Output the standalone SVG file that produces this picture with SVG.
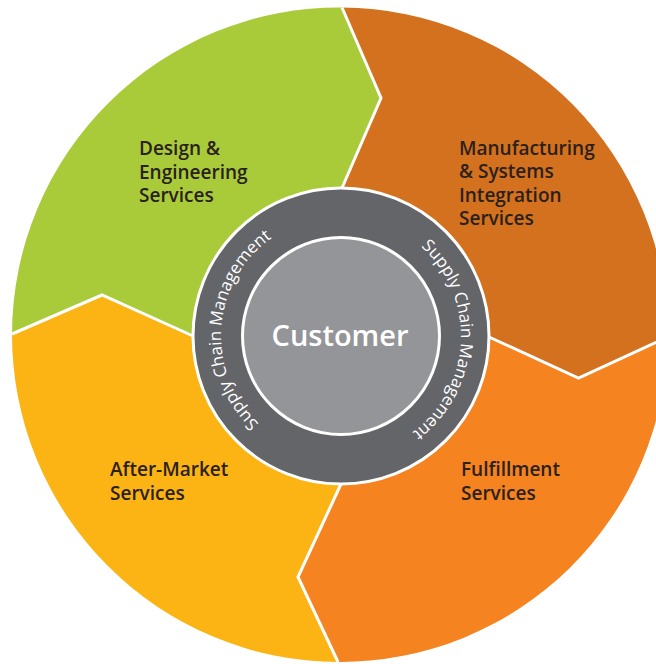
<svg xmlns="http://www.w3.org/2000/svg" width="656" height="664" viewBox="0 0 656 664">
  <style>
    .label { font-family: "Open Sans", "Liberation Sans", sans-serif; font-size: 19px; font-weight: 600; fill: #2A201C; }
    .ring-text { font-family: "Open Sans", "Liberation Sans", sans-serif; font-size: 17px; font-weight: 500; fill: #FFFFFF; }
    .hub-text { font-family: "Open Sans", "Liberation Sans", sans-serif; font-size: 29px; font-weight: 600; fill: #FFFFFF; }
    .divider { fill: none; stroke: #FFFFFF; stroke-width: 3; stroke-linejoin: miter; }
  </style>
  <defs>
    <!-- baseline arcs for the ring captions, both running clockwise -->
    <path id="arcLeft" d="M 322.23 454.52 A 120 120 0 0 1 338.91 216.02"/>
    <path id="arcRight" d="M 357.08 217.08 A 120 120 0 0 1 345.82 455.90"/>
  </defs>
  <rect width="656" height="664" fill="#FFFFFF"/>

  <!-- four service segments of the outer wheel -->
  <g id="design">
    <path d="M 12 334 A 327.5 327.5 0 0 1 342 7.5 L 381 98 L 342 188 L 341 336 L 193 336 L 102 295 Z" fill="#A9CB3A"/>
    <text class="label" x="139" y="155">Design &amp;</text>
    <text class="label" x="139" y="178.5">Engineering</text>
    <text class="label" x="139" y="202">Services</text>
  </g>
  <g id="manufacturing">
    <path d="M 342 7.5 A 327.5 327.5 0 0 1 667.5 337 L 578.5 378 L 489 337 L 341 336 L 342 188 L 381 98 Z" fill="#D3711E"/>
    <text class="label" x="459" y="154.5">Manufacturing</text>
    <text class="label" x="459" y="178">&amp; Systems</text>
    <text class="label" x="459" y="201.5">Integration</text>
    <text class="label" x="459" y="225">Services</text>
  </g>
  <g id="fulfillment">
    <path d="M 667.5 337 A 327.5 327.5 0 0 1 338 662 L 298 577 L 341 484 L 341 336 L 489 337 L 578.5 378 Z" fill="#F58320"/>
    <text class="label" x="461" y="476">Fulfillment</text>
    <text class="label" x="461" y="499.5">Services</text>
  </g>
  <g id="after-market">
    <path d="M 338 662 A 327.5 327.5 0 0 1 12 334 L 102 295 L 193 336 L 341 336 L 341 484 L 298 577 Z" fill="#FCB415"/>
    <text class="label" x="110" y="476">After-Market</text>
    <text class="label" x="110" y="499.5">Services</text>
  </g>

  <!-- chevron dividers between segments -->
  <g id="connectors">
    <polyline class="divider" points="342,7.5 381,98 342,188"/>
    <polyline class="divider" points="489,337 578.5,378 667.5,337"/>
    <polyline class="divider" points="341,484 298,577 338,662"/>
    <polyline class="divider" points="12,334 102,295 193,336"/>
  </g>

  <!-- supply chain ring -->
  <g id="supply-chain">
    <circle cx="341" cy="336" r="148" fill="#636569" stroke="#FFFFFF" stroke-width="3"/>
    <text class="ring-text"><textPath href="#arcLeft" startOffset="50%" text-anchor="middle">Supply Chain Management</textPath></text>
    <text class="ring-text"><textPath href="#arcRight" startOffset="50%" text-anchor="middle">Supply Chain Management</textPath></text>
  </g>

  <!-- customer hub -->
  <g id="customer">
    <circle cx="341" cy="336" r="98.5" fill="#939598" stroke="#FFFFFF" stroke-width="3"/>
    <text class="hub-text" x="340" y="345.5" text-anchor="middle">Customer</text>
  </g>
</svg>
